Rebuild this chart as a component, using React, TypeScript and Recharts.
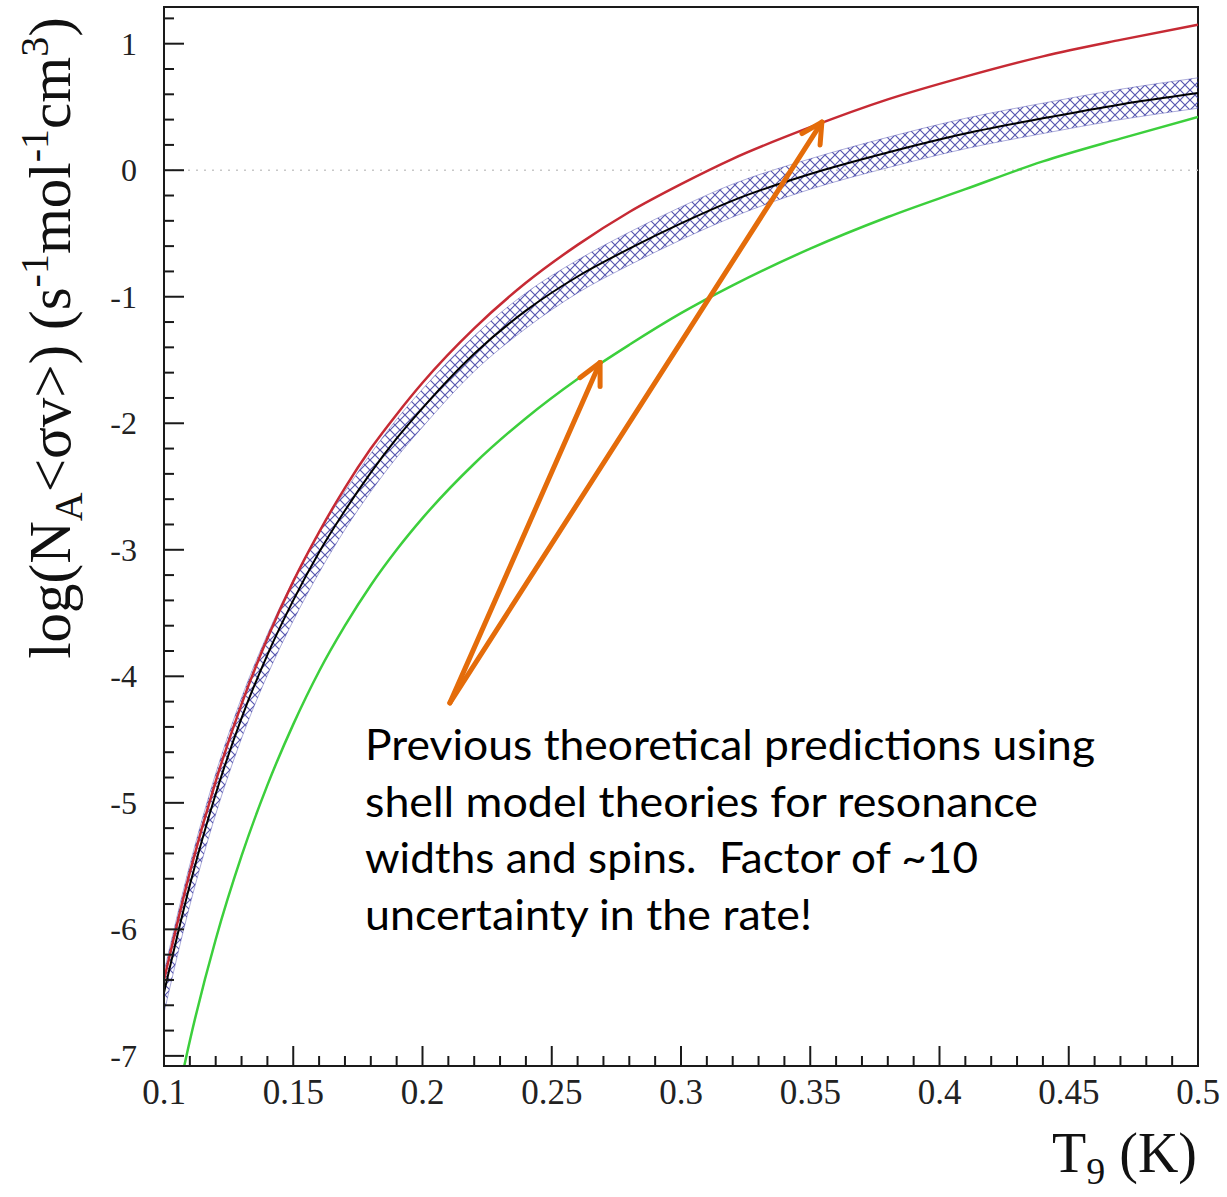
import React from "react";
import {
  ComposedChart,
  Line,
  Area,
  XAxis,
  YAxis,
  ReferenceLine,
  ReferenceArea,
} from "recharts";

// temperature grid (T9) shared by the red, black curves and the band
const T_GRID = [0.1, 0.11, 0.12, 0.13, 0.14, 0.15, 0.16, 0.17, 0.18, 0.19, 0.2, 0.22, 0.24, 0.26, 0.28, 0.3, 0.32, 0.35, 0.38, 0.41, 0.44, 0.47, 0.5];

// upper previous prediction (red)
const RED = [-6.4, -5.55, -4.83, -4.22, -3.7, -3.25, -2.86, -2.51, -2.2, -1.93, -1.68, -1.25, -0.89, -0.59, -0.33, -0.11, 0.09, 0.34, 0.56, 0.74, 0.9, 1.03, 1.15];

// present rate (black) and its uncertainty band (blue hatch)
const BLACK = [-6.5, -5.65, -4.93, -4.33, -3.83, -3.4, -3.02, -2.69, -2.39, -2.12, -1.88, -1.45, -1.11, -0.84, -0.62, -0.42, -0.24, -0.03, 0.14, 0.29, 0.41, 0.52, 0.61];
const BAND_LOW = [-6.66, -5.81, -5.09, -4.49, -3.99, -3.56, -3.18, -2.84, -2.54, -2.27, -2.03, -1.59, -1.25, -0.97, -0.75, -0.55, -0.37, -0.15, 0.02, 0.17, 0.29, 0.4, 0.49];
const BAND_HIGH = [-6.34, -5.49, -4.77, -4.17, -3.67, -3.24, -2.86, -2.54, -2.24, -1.97, -1.73, -1.31, -0.97, -0.71, -0.49, -0.29, -0.11, 0.09, 0.26, 0.41, 0.53, 0.64, 0.73];

// lower previous prediction (green)
const GREEN_T = [0.105, 0.11, 0.12, 0.13, 0.14, 0.15, 0.16, 0.17, 0.18, 0.19, 0.2, 0.22, 0.24, 0.26, 0.28, 0.3, 0.32, 0.35, 0.38, 0.41, 0.44, 0.47, 0.5];
const GREEN = [-7.35, -6.88, -6.08, -5.42, -4.86, -4.38, -3.96, -3.6, -3.28, -3.0, -2.75, -2.32, -1.96, -1.65, -1.38, -1.13, -0.91, -0.62, -0.37, -0.15, 0.07, 0.25, 0.42];

const X_MAJOR = [0.1, 0.15, 0.2, 0.25, 0.3, 0.35, 0.4, 0.45, 0.5];
const Y_MAJOR = [-7, -6, -5, -4, -3, -2, -1, 0, 1];

// minor ticks: 5 per major step
const X_TICKS = Array.from({ length: 41 }, (_, i) => +(0.1 + i * 0.01).toFixed(2));
const Y_TICKS = Array.from({ length: 42 }, (_, i) => +(-7 + i * 0.2).toFixed(1));

const X_DOMAIN: [number, number] = [0.1, 0.5];
const Y_DOMAIN: [number, number] = [-7.08, 1.29];

const NOTE_LINES = [
  { text: "Previous theoretical predictions using", width: 730 },
  { text: "shell model theories for resonance", width: 673 },
  { text: "widths and spins.\u00a0 Factor of ~10", width: 613 },
  { text: "uncertainty in the rate!", width: 447 },
];

// arrow from the note to the green and red curves
const ARROW_FROM = { x: 0.2106, y: -4.21 };
const ARROW_TIPS = [
  { tip: { x: 0.2687, y: -1.52 }, wings: [{ x: 0.2609, y: -1.64 }, { x: 0.2687, y: -1.71 }] },
  { tip: { x: 0.3545, y: 0.38 }, wings: [{ x: 0.3468, y: 0.29 }, { x: 0.3538, y: 0.2 }] },
];

const mainData = T_GRID.map((t, i) => ({ t, red: RED[i], black: BLACK[i], band: [BAND_LOW[i], BAND_HIGH[i]] }));
const greenData = GREEN_T.map((t, i) => ({ t, green: GREEN[i] }));

const SERIF = "'Liberation Serif', 'Times New Roman', serif";
const ORANGE = "#E46C0A";
const AXIS = "#1a1a1a";

function isMajor(v: number, majors: number[]) {
  return majors.some((m) => Math.abs(m - v) < 1e-6);
}

function XTick(props: any) {
  const { x, payload } = props;
  const major = isMajor(payload.value, X_MAJOR);
  return (
    <g>
      <line x1={x} x2={x} y1={1066} y2={1066 - (major ? 20 : 10)} stroke={AXIS} strokeWidth={2} />
      {major && (
        <text x={x} y={1104} textAnchor="middle" fontFamily={SERIF} fontSize={35} fill="#222">
          {String(+payload.value.toFixed(2))}
        </text>
      )}
    </g>
  );
}

function YTick(props: any) {
  const { y, payload } = props;
  const major = isMajor(payload.value, Y_MAJOR);
  return (
    <g>
      <line x1={164} x2={164 + (major ? 20 : 10)} y1={y} y2={y} stroke={AXIS} strokeWidth={2} />
      {major && (
        <text x={137} y={y + 11} textAnchor="end" fontFamily={SERIF} fontSize={32} fill="#222">
          {String(Math.round(payload.value))}
        </text>
      )}
    </g>
  );
}

function YTitle() {
  return (
    <text transform="translate(70, 338) rotate(-90)" textAnchor="middle" fontFamily={SERIF} fontSize={59} fill="#111">
      log(N
      <tspan fontSize={40} dy={12}>A</tspan>
      <tspan dy={-12}>&lt;σv&gt;) (s</tspan>
      <tspan fontSize={40} dy={-22}>-1</tspan>
      <tspan dy={22}>mol</tspan>
      <tspan fontSize={40} dy={-22}>-1</tspan>
      <tspan dy={22}>cm</tspan>
      <tspan fontSize={40} dy={-22}>3</tspan>
      <tspan dy={22}>)</tspan>
    </text>
  );
}

function XTitle() {
  return (
    <text x={1197} y={1172} textAnchor="end" fontFamily={SERIF} fontSize={56} fill="#111">
      T<tspan fontSize={38} dy={12}>9</tspan>
      <tspan dy={-12}> (K)</tspan>
    </text>
  );
}

export default function App() {
  return (
    <div style={{ position: "absolute", left: 0, top: 0, background: "#fff" }}>
      <ComposedChart width={1227} height={1197} margin={{ top: 7, right: 29, bottom: 91, left: 104 }}>
        <defs>
          <pattern id="xhatch" patternUnits="userSpaceOnUse" width={10} height={10}>
            <path d="M0,0 L10,10 M10,0 L0,10" stroke="#2c2c9c" strokeWidth={1.2} />
          </pattern>
        </defs>
        <XAxis
          type="number"
          dataKey="t"
          domain={X_DOMAIN}
          allowDataOverflow
          ticks={X_TICKS}
          interval={0}
          height={40}
          tickLine={false}
          tick={XTick}
          axisLine={{ stroke: AXIS, strokeWidth: 2 }}
          label={<XTitle />}
        />
        <YAxis
          type="number"
          domain={Y_DOMAIN}
          allowDataOverflow
          ticks={Y_TICKS}
          interval={0}
          width={60}
          tickLine={false}
          tick={YTick}
          axisLine={{ stroke: AXIS, strokeWidth: 2 }}
          label={<YTitle />}
        />
        <ReferenceArea x1={0.1} x2={0.5} y1={Y_DOMAIN[0]} y2={Y_DOMAIN[1]} fill="none" stroke={AXIS} strokeWidth={2} fillOpacity={0} />
        <ReferenceLine y={0} stroke="#c8c8c8" strokeWidth={1.5} strokeDasharray="2 6" />
        <Area
          data={mainData}
          dataKey="band"
          type="monotone"
          fill="url(#xhatch)"
          fillOpacity={0.8}
          stroke="#5050b0"
          strokeWidth={0.8}
          strokeOpacity={0.6}
          isAnimationActive={false}
        />
        <Line data={mainData} dataKey="black" type="monotone" stroke="#000" strokeWidth={2} dot={false} isAnimationActive={false} />
        <Line data={mainData} dataKey="red" type="monotone" stroke="#c62a34" strokeWidth={2.5} dot={false} isAnimationActive={false} />
        <Line data={greenData} dataKey="green" type="monotone" stroke="#3ccf3c" strokeWidth={2.5} dot={false} isAnimationActive={false} />
        {ARROW_TIPS.map((a, i) => (
          <ReferenceLine key={`s${i}`} segment={[ARROW_FROM, a.tip]} stroke={ORANGE} strokeWidth={5} strokeLinecap="round" />
        ))}
        {ARROW_TIPS.flatMap((a, i) =>
          a.wings.map((w, j) => (
            <ReferenceLine key={`w${i}${j}`} segment={[a.tip, w]} stroke={ORANGE} strokeWidth={5} strokeLinecap="round" />
          ))
        )}
        <text fontFamily="Lato, 'Open Sans', sans-serif" fontSize={42} fill="#000">
          {NOTE_LINES.map((l, i) => (
            <tspan key={i} x={365} y={760 + i * 56.5} textLength={l.width} lengthAdjust="spacingAndGlyphs">
              {l.text}
            </tspan>
          ))}
        </text>
      </ComposedChart>
    </div>
  );
}
